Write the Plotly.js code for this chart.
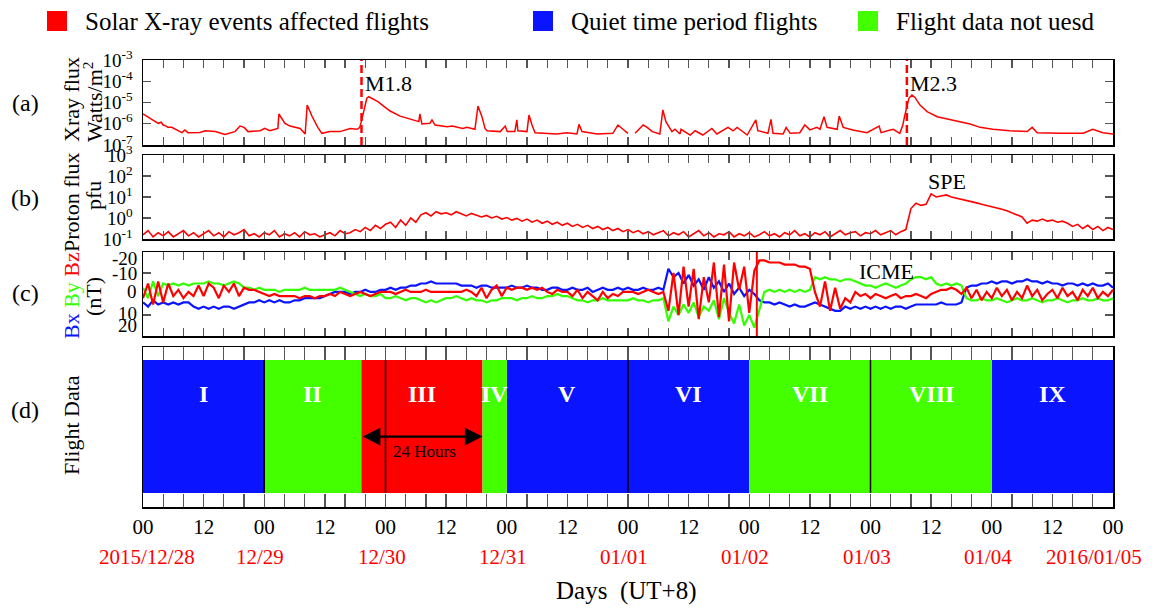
<!DOCTYPE html>
<html><head><meta charset="utf-8">
<script src="https://cdn.plot.ly/plotly-3.0.1.min.js"></script>
<style>html,body{margin:0;padding:0;background:#fff}#chart{width:1160px;height:608px}</style>
</head><body><div id="chart"></div>
<script>
// ---------- DATA ----------
// time base: hours since 2015/12/28 00:00 (UT+8)
const hours = Array.from({length:193}, (_, i) => i);

// GOES X-ray flux, log10(W/m^2)
const xrayHours = [0.0,1.4,3.0,3.6,4.0,4.6,4.9,5.7,6.5,7.7,8.3,8.9,11.3,12.3,14.3,16.2,18.2,19.2,20.0,20.8,23.2,24.1,25.1,26.7,26.9,28.1,29.1,30.1,31.1,32.1,32.5,33.5,34.6,35.4,37.0,39.0,41.0,42.4,42.9,43.3,43.7,44.3,44.7,45.3,46.5,47.5,48.9,50.9,53.4,54.6,54.8,55.2,56.8,57.2,57.8,60.2,61.2,63.3,64.1,65.7,66.3,67.1,67.7,68.1,70.7,71.7,72.1,73.6,74.0,74.2,76.0,76.4,77.0,77.6,81.9,83.9,85.9,86.3,86.9,89.9,93.0,94.0,95.0,96.0,96.7,97.4,99.0,99.8,100.8,102.3,102.9,103.5,104.7,105.3,106.3,106.5,108.3,109.3,110.8,112.6,113.6,115.8,116.8,117.6,119.6,121.3,121.7,123.7,124.3,124.7,126.7,127.3,128.1,130.0,131.0,132.0,133.4,134.0,134.8,135.4,137.4,137.8,138.6,140.5,143.3,145.7,146.1,147.9,148.5,149.8,150.4,150.8,151.2,151.6,152.2,152.8,153.8,155.2,157.2,159.7,161.7,163.7,165.7,168.2,171.6,175.0,176.0,177.0,181.5,186.1,188.0,190.0,192.0];
const xrayLog = [-5.54,-5.75,-5.98,-5.93,-6.06,-6.11,-6.17,-6.17,-6.26,-6.42,-6.29,-6.42,-6.41,-6.33,-6.37,-6.50,-6.37,-6.11,-6.17,-6.37,-6.33,-6.22,-6.33,-6.22,-5.54,-5.98,-6.11,-6.17,-6.22,-6.48,-5.12,-5.67,-6.17,-6.45,-6.37,-6.37,-6.22,-6.26,-6.17,-5.82,-5.35,-4.80,-4.73,-4.80,-4.96,-5.15,-5.40,-5.64,-5.82,-5.90,-5.54,-6.01,-5.98,-5.82,-6.06,-6.14,-6.11,-6.22,-6.17,-6.26,-5.17,-5.67,-6.22,-6.33,-6.37,-6.11,-6.37,-6.37,-5.82,-6.33,-6.37,-5.59,-6.06,-6.42,-6.48,-6.42,-6.48,-6.03,-6.37,-6.48,-6.45,-6.06,-6.26,-6.45,null,-6.45,-6.06,-6.17,-6.37,-6.48,-5.35,-5.90,-6.37,-6.26,-6.48,-6.26,-6.53,-6.33,-6.53,-6.22,-6.48,-6.17,-6.33,-6.17,-6.53,-5.82,-6.33,-6.45,-5.79,-6.45,-6.48,-6.18,-6.45,-6.42,-6.06,-6.29,-6.17,-6.26,-5.67,-6.17,-6.26,-5.64,-6.17,-6.29,-6.42,-6.11,-6.42,-6.29,-6.26,-6.45,-6.06,-5.59,-5.20,-4.80,-4.65,-4.76,-5.12,-5.43,-5.67,-5.79,-5.90,-6.01,-6.17,-6.26,-6.33,-6.37,-6.17,-6.42,-6.45,-6.45,-6.26,-6.42,-6.48];

// Proton flux, log10(pfu), hourly
const protonLog = [
-0.8,-0.6,-0.9,-0.7,-0.85,-0.65,-0.9,-0.75,-0.6,-0.85,-0.7,-0.9,
-0.75,-0.6,-0.85,-0.7,-0.9,-0.65,-0.8,-0.7,-0.55,-0.85,-0.75,-0.9,
-0.7,-0.8,-0.6,-0.9,-0.75,-0.85,-0.7,-0.9,-0.65,-0.8,-0.75,-0.9,
-0.8,-0.7,-0.85,-0.6,-0.75,-0.7,-0.55,-0.65,-0.45,-0.6,-0.35,-0.5,
-0.3,-0.2,-0.45,-0.1,-0.35,0.0,-0.2,0.15,0.25,0.1,0.3,0.2,
0.25,0.15,0.3,0.2,0.1,0.22,0.15,0.05,0.12,0.0,0.08,-0.05,
0.02,-0.1,-0.02,-0.15,-0.05,-0.2,-0.1,-0.25,-0.15,-0.3,-0.2,-0.35,
-0.25,-0.4,-0.3,-0.45,-0.35,-0.5,-0.4,-0.55,-0.45,-0.6,-0.5,-0.65,
-0.55,-0.7,-0.6,-0.75,-0.65,-0.8,-0.7,-0.6,-0.85,-0.7,-0.8,-0.65,
-0.9,-0.75,-0.6,-0.85,-0.7,-0.9,-0.75,-0.8,-0.65,-0.9,-0.75,-0.85,
-0.7,-0.9,-0.8,-0.65,-0.85,-0.75,-0.9,-0.7,-0.8,-0.6,-0.85,-0.75,
-0.9,-0.7,-0.8,-0.65,-0.9,-0.75,-0.6,-0.8,-0.7,-0.65,-0.85,-0.7,
-0.75,-0.6,-0.8,-0.7,-0.6,-0.8,-0.65,-0.55,0.45,0.7,0.6,0.65,
1.15,1.0,1.05,1.1,1.0,0.95,0.9,0.85,0.8,0.72,0.65,0.6,
0.55,0.5,0.42,0.35,0.25,0.15,0.05,-0.25,-0.1,-0.15,-0.05,-0.15,
-0.1,-0.2,-0.15,-0.25,-0.4,-0.3,-0.5,-0.35,-0.55,-0.4,-0.6,-0.45,-0.55];

// IMF components (nT), hourly
const bx = [
4,6,3,5,4,5,4,5,4,4,6,7,
6,7,6,7,6,6,7,6,5,4,4,3,
4,3,4,3,4,4,3,3,2,2,2,2,
1,0,-1,-1,-1,0,-1,-1,-2,-1,-1,-2,
-2,-3,-2,-3,-3,-4,-4,-5,-5,-6,-5,-5,
-5,-5,-5,-4,-4,-4,-3,-4,-4,-3,-3,-3,
-3,-4,-3,-3,-4,-3,-3,-2,-2,-3,-3,-2,
-2,-3,-2,-2,-3,-1,-2,-3,-2,-2,-3,-2,
-3,-2,-2,-3,-2,-2,-3,-2,-12,-8,-10,-5,
-9,-4,-7,-2,-8,-3,-6,-1,-5,0,-3,1,
-2,0,3,4,4,5,4,5,6,5,6,6,
5,4,5,6,7,8,8,6,7,6,7,6,
7,6,7,6,7,6,6,7,6,5,5,5,
5,5,4,5,5,5,4,-3,-4,-4,-5,-5,
-6,-5,-6,-6,-5,-6,-6,-7,-6,-6,-5,-6,
-5,-5,-4,-5,-5,-4,-5,-4,-5,-4,-4,-5,-3];
const by = [
-3,2,-6,1,-5,-4,-5,-4,-5,-4,-5,-5,
-5,-6,-5,-5,-4,-5,-6,-5,-3,-3,-2,-3,
-2,-2,-2,-1,-2,-2,-2,-2,-3,-2,-2,-2,
-2,-2,-2,-3,-2,-1,0,1,0,1,1,0,
2,2,1,2,3,2,2,3,4,3,4,3,
2,2,1,2,3,2,3,3,4,3,3,2,
2,2,3,2,2,1,2,2,1,1,0,1,
1,2,3,3,4,3,3,2,3,3,3,3,
3,2,3,3,4,3,3,2,13,6,10,5,
9,4,11,6,8,3,12,2,9,14,5,15,
10,16,8,-1,-2,-1,-2,-1,-2,-1,-2,-1,
-2,-8,-7,-8,-7,-7,-6,-7,-7,-6,-5,-4,
-4,-3,-4,-5,-4,-3,-4,-5,-7,-8,-8,-7,
-8,-5,-4,-5,-4,-5,-4,2,3,3,2,3,
3,2,3,4,3,2,3,3,2,3,4,3,
3,2,3,4,3,3,2,3,3,2,3,3,2];
const bz = [
2,-5,5,-6,4,-5,1,-2,2,-1,1,-4,
1,-5,-3,2,-4,-1,-5,1,-3,-2,-2,-1,
0,1,0,1,1,1,1,2,1,1,2,1,
1,0,1,-1,0,1,0,-1,0,1,0,-1,
-1,-1,0,-1,-2,-1,-1,-1,-2,-1,-1,-1,
-1,-1,-1,-1,-2,-1,1,-3,2,-2,-4,1,
-3,-2,-3,-3,-2,-3,-2,-3,-1,0,-2,-1,
-1,1,-2,2,-1,1,3,-1,2,0,1,-1,
-1,-1,0,-1,-2,-1,0,-1,8,-10,10,-13,
6,-12,12,-8,4,-15,11,-14,13,-15,-2,-13,
9,-11,-16,-16,-15,-15,-15,-14,-14,-14,-13,-13,
-12,-1,6,-6,8,-3,7,2,4,-1,1,0,
2,0,1,2,1,0,2,1,1,0,1,2,
0,-1,-2,-2,-3,-2,0,-3,2,-2,3,-1,
2,-3,1,-2,3,-1,2,-4,1,-2,3,0,
-2,2,-3,1,-1,3,-2,1,-3,2,-1,1,-2];

// Flight data periods
const segNames = ['I','II','III','IV','V','VI','VII','VIII','IX'];
const segStart = [0, 24, 43.2, 67.2, 72, 96, 120, 144, 168];
const segEnd   = [24, 43.2, 67.2, 72, 96, 120, 144, 168, 192];
const segType  = ['quiet','unused','solar','unused','quiet','quiet','unused','unused','quiet'];
const catKeys  = ['solar','quiet','unused'];
const catNames = ['Solar X-ray events affected flights','Quiet time period flights','Flight data not uesd'];
const dayLines = [24, 48, 96, 144];
const window24 = [43.2, 67.2];

// Events
const flareHours = [43.25, 151.2];
const flareNames = ['M1.8','M2.3'];
const shockHour = 121.5;

// Axis labels
const dateLabels = ['2015/12/28','12/29','12/30','12/31','01/01','01/02','01/03','01/04','2016/01/05'];
const hourTickVals = [0,12,24,36,48,60,72,84,96,108,120,132,144,156,168,180,192];
const hourTickText = ['00','12','00','12','00','12','00','12','00','12','00','12','00','12','00','12','00'];
const xrayTicks = [-7,-6,-5,-4,-3];
const protonTicks = [-1,0,1,2,3];
const bTickLabels = [-20,-10,0,10,20];

// ---------- STYLE ----------
const F = "'Liberation Serif','Times New Roman',serif";
const RED = '#ff0000', BLUE = '#0a14ff', GREEN = '#44ff00';
const catColor = {solar: RED, quiet: BLUE, unused: GREEN};
const L = 143, R = 1113, T = 60, Bm = 507;
const px2x = p => (p - L) / (R - L);
const py2y = p => (Bm - p) / (Bm - T);

const traces = [];
traces.push({x: xrayHours, y: xrayLog.map(v => v === null ? null : Math.pow(10, v)), xaxis:'x', yaxis:'y',
  mode:'lines', line:{color:RED, width:1.5}, connectgaps:false, hoverinfo:'skip'});
traces.push({x: hours, y: protonLog.map(v => Math.pow(10, v)), xaxis:'x2', yaxis:'y2',
  mode:'lines', line:{color:RED, width:1.6}, hoverinfo:'skip'});
traces.push({x: hours, y: bx, xaxis:'x3', yaxis:'y3', mode:'lines', line:{color:BLUE, width:2.2}, hoverinfo:'skip'});
traces.push({x: hours, y: by, xaxis:'x3', yaxis:'y3', mode:'lines', line:{color:'#33ff00', width:2.2}, hoverinfo:'skip'});
traces.push({x: hours, y: bz, xaxis:'x3', yaxis:'y3', mode:'lines', line:{color:RED, width:2.2}, hoverinfo:'skip'});

catKeys.forEach((k, ci) => {
  const idx = segType.map((t, i) => t === k ? i : -1).filter(i => i >= 0);
  traces.push({type:'bar', name: catNames[ci], xaxis:'x4', yaxis:'y4',
    x: idx.map(i => (segStart[i] + segEnd[i]) / 2),
    width: idx.map(i => segEnd[i] - segStart[i]),
    y: idx.map(() => 0.832), base: 0.0875,
    marker:{color: catColor[k], line:{width:0}}, hoverinfo:'skip'});
});

const baseX = {range:[0,192], showgrid:false, zeroline:false, showline:true, mirror:'ticks',
  linecolor:'#000', linewidth:1.5, ticks:'inside', ticklen:8, tickwidth:1.3, tickcolor:'#555',
  tickmode:'array', tickvals: hourTickVals, ticktext: hourTickText, showticklabels:false,
  minor:{tickmode:'linear', tick0:0, dtick:4, ticks:'inside', ticklen:8, tickwidth:1.3, tickcolor:'#555'}};
const baseY = {showgrid:false, zeroline:false, showline:true, mirror:'ticks', linecolor:'#000',
  linewidth:1.5, ticks:'inside', ticklen:8, tickwidth:1.3, tickcolor:'#555',
  tickfont:{family:F, size:19, color:'#000'}, ticklabelstandoff:5};

const sup = v => '10<sup>' + v + '</sup>';

const layout = {
  width:1160, height:608, margin:{l:L, r:1160-R, t:T, b:608-Bm},
  paper_bgcolor:'#fff', plot_bgcolor:'#fff', showlegend:false, barmode:'overlay',
  font:{family:F, color:'#000'},
  xaxis: Object.assign({}, baseX, {anchor:'y', matches:'x4'}),
  xaxis2: Object.assign({}, baseX, {anchor:'y2', matches:'x4'}),
  xaxis3: Object.assign({}, baseX, {anchor:'y3', matches:'x4'}),
  xaxis4: Object.assign({}, baseX, {anchor:'y4', ticklen:13, showticklabels:true,
    minor:{tickmode:'linear', tick0:0, dtick:4, ticks:'inside', ticklen:13, tickwidth:1.3, tickcolor:'#555'},
    tickfont:{family:F, size:21, color:'#000'}}),
  yaxis: Object.assign({}, baseY, {domain:[py2y(145), 1], type:'log', range:[-7,-3],
    tickvals: xrayTicks.map(v => Math.pow(10, v)), ticktext: xrayTicks.map(sup)}),
  yaxis2: Object.assign({}, baseY, {domain:[py2y(239), py2y(155)], type:'log', range:[-1,3],
    tickvals: protonTicks.map(v => Math.pow(10, v)), ticktext: protonTicks.map(sup)}),
  yaxis3: Object.assign({}, baseY, {domain:[py2y(336), py2y(252)], range:[20,-20],
    tickvals:[-10,10], showticklabels:false}),
  yaxis4: Object.assign({}, baseY, {domain:[0, py2y(347)], range:[0,1], ticks:'', showticklabels:false}),
  shapes: [], annotations: []
};

// legend
const legX = [47, 533, 858];
catKeys.forEach((k, i) => {
  layout.shapes.push({type:'rect', xref:'paper', yref:'paper', x0:px2x(legX[i]), x1:px2x(legX[i]+20),
    y0:py2y(31), y1:py2y(11), fillcolor:catColor[k], line:{width:0}});
  layout.annotations.push({xref:'paper', yref:'paper', x:px2x(legX[i]+36), y:py2y(21), xanchor:'left', yanchor:'middle',
    text:catNames[i], showarrow:false, font:{family:F, size:25, color:'#000'}});
});

// flares
flareHours.forEach((h, i) => {
  layout.shapes.push({type:'line', xref:'x', yref:'y domain', x0:h, x1:h, y0:0, y1:1,
    line:{color:RED, width:2.5, dash:'8px,4px'}});
  layout.annotations.push({xref:'x', yref:'y', x:h, y:-4.1, xanchor:'left', yanchor:'middle', xshift:1,
    text:flareNames[i], showarrow:false, font:{family:F, size:22, color:'#000'}});
});
layout.annotations.push({xref:'x2', yref:'y2', x:159.2, y:1.73, xanchor:'center', yanchor:'middle', text:'SPE', showarrow:false,
  font:{family:F, size:22, color:'#000'}});
layout.annotations.push({xref:'x3', yref:'y3', x:147.2, y:-10.5, xanchor:'center', yanchor:'middle', text:'ICME', showarrow:false,
  font:{family:F, size:22, color:'#000'}});
layout.shapes.push({type:'line', xref:'x3', yref:'y3 domain', x0:shockHour, x1:shockHour, y0:0, y1:1,
  line:{color:RED, width:2}});

// panel c tick labels
const bShift = [-6, 0, 3, 2, 11];
bTickLabels.forEach((v, i) => {
  layout.annotations.push({xref:'paper', yref:'y3', x:px2x(139), y:v, yshift:bShift[i], xanchor:'right', yanchor:'middle',
    text:String(v), showarrow:false, font:{family:F, size:19, color:'#000'}});
});

// panel d
dayLines.forEach(h => layout.shapes.push({type:'line', xref:'x4', yref:'y4', x0:h, x1:h, y0:0.0875, y1:0.9195,
  line:{color:'#000', width:1.5}}));
segNames.forEach((n, i) => layout.annotations.push({xref:'x4', yref:'y4', x:(segStart[i]+segEnd[i])/2, y:0.706,
  xanchor:'center', yanchor:'middle', text:'<b>'+n+'</b>', showarrow:false, font:{family:F, size:24, color:'#fff'}}));
layout.annotations.push({xref:'x4', yref:'y4', axref:'x4', ayref:'y4', x:window24[1], y:0.44, ax:window24[0], ay:0.44,
  text:'', showarrow:true, arrowhead:2, startarrowhead:2, arrowside:'end+start', arrowsize:1.6, startarrowsize:1.6, arrowwidth:2.2, arrowcolor:'#000'});
layout.annotations.push({xref:'x4', yref:'y4', x:(window24[0]+window24[1])/2 + 0.6, y:0.347, xanchor:'center', yanchor:'middle',
  text:'24 Hours', showarrow:false, font:{family:F, size:17, color:'#000'}});

// date labels
dateLabels.forEach((d, i) => {
  const sh = i === 0 ? 4 : (i === dateLabels.length - 1 ? -19 : -4);
  layout.annotations.push({xref:'x4', yref:'paper', x:i*24, y:py2y(557), xshift:sh, xanchor:'center', yanchor:'middle',
    text:d, showarrow:false, font:{family:F, size:21, color:RED}});
});
layout.annotations.push({xref:'paper', yref:'paper', x:px2x(626), y:py2y(591), xanchor:'center', yanchor:'middle',
  text:'Days\u00a0\u00a0(UT+8)', showarrow:false, font:{family:F, size:25, color:'#000'}});

// left labels
const leftLab = [
  {t:'(a)', x:25, y:103}, {t:'(b)', x:25, y:198}, {t:'(c)', x:25, y:293}, {t:'(d)', x:25, y:410}];
leftLab.forEach(o => layout.annotations.push({xref:'paper', yref:'paper', x:px2x(o.x), y:py2y(o.y),
  xanchor:'center', yanchor:'middle', text:o.t, showarrow:false, font:{family:F, size:24, color:'#000'}}));
const ytitles = [
  {t:'Xray flux', x:71, y:100}, {t:'Watts/m<sup>2</sup>', x:93, y:102},
  {t:'Proton flux', x:71, y:202}, {t:'pfu', x:93, y:196},
  {t:'<span style="color:'+BLUE+'">Bx</span> <span style="color:#33ff00">By</span> <span style="color:'+RED+'">Bz</span>', x:71, y:296},
  {t:'(nT)', x:93, y:297},
  {t:'Flight Data', x:71, y:425}];
ytitles.forEach(o => layout.annotations.push({xref:'paper', yref:'paper', x:px2x(o.x), y:py2y(o.y),
  xanchor:'center', yanchor:'middle', text:o.t, textangle:-90, showarrow:false, font:{family:F, size:22, color:'#000'}}));

Plotly.newPlot('chart', traces, layout, {staticPlot:true, displayModeBar:false});
</script></body></html>
